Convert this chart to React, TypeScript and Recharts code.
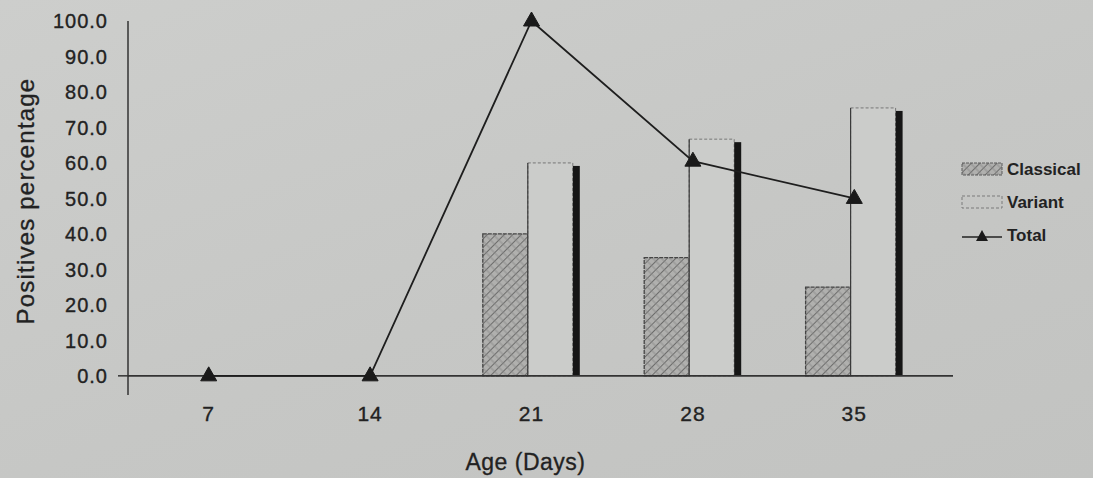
import React from 'react';
import { ComposedChart, Bar, Line, XAxis, YAxis, Legend, ReferenceLine } from 'recharts';

const ages = ['7', '14', '21', '28', '35'];
const classical = [0, 0, 40, 33.3, 25];
const variant = [0, 0, 60, 66.7, 75.5];
const total = [0, 0, 100, 60.5, 50];
const yTicks = [0, 10, 20, 30, 40, 50, 60, 70, 80, 90, 100];

const data = ages.map((a, i) => ({ age: a, classical: classical[i], variant: variant[i], shadow: variant[i], total: total[i] }));

const FONT = '"Liberation Sans", Arial, sans-serif';
const INK = '#222';

const YTick = (props: any) => {
  const { x, y, payload } = props;
  return (
    <g>
      {payload.value === 0 && <line x1={x + 10} x2={x + 21} y1={y} y2={y} stroke="#333" strokeWidth={1.5} />}
      <text x={x} y={y} dy="0.36em" textAnchor="end" fontFamily={FONT} fontSize={20} letterSpacing={1} fill={INK} stroke={INK} strokeWidth={0.35}>
        {Number(payload.value).toFixed(1)}
      </text>
    </g>
  );
};

const XTick = (props: any) => {
  const { x, y, payload } = props;
  return (
    <text x={x} y={y} dy="0.72em" textAnchor="middle" fontFamily={FONT} fontSize={21} letterSpacing={1} fill={INK} stroke={INK} strokeWidth={0.35}>
      {payload.value}
    </text>
  );
};

const ClassicalShape = (props: any) => {
  const { x, y, width, height } = props;
  if (!height || height <= 0) return null;
  return <rect x={x} y={y} width={width} height={height} fill="url(#hatch)" stroke="#444" strokeWidth={1.3} strokeDasharray="4 1" />;
};

const VariantShape = (props: any) => {
  const { x, y, width, height } = props;
  if (!height || height <= 0) return null;
  return (
    <g>
      <rect x={x} y={y} width={width} height={height} fill="#cbccca" stroke="#777" strokeWidth={1} strokeDasharray="3 2" />
      <line x1={x} x2={x} y1={y} y2={y + height} stroke="#3a3a3a" strokeWidth={1.2} />
    </g>
  );
};

const ShadowShape = (props: any) => {
  const { x, y, width, height } = props;
  if (!height || height <= 4) return null;
  return <rect x={x} y={y + 3} width={width} height={height - 3} fill="#161616" />;
};

const TriangleDot = (props: any) => {
  const { cx, cy, index } = props;
  if (cx == null || cy == null) return null;
  return <path key={`t${index}`} d={`M${cx},${cy - 9} L${cx + 8},${cy + 5} L${cx - 8},${cy + 5} Z`} fill="#1a1a1a" stroke="#1a1a1a" strokeWidth={1} />;
};

const LegendContent = () => {
  const rowH = 33;
  const txt = { fontFamily: FONT, fontSize: 17, fontWeight: 'bold' as const, fill: INK };
  return (
    <svg width={133} height={100} style={{ display: 'block' }}>
      <defs>
        <pattern id="hatch2" width="6" height="6" patternUnits="userSpaceOnUse" patternTransform="rotate(45)">
          <rect width="6" height="6" fill="#b0b0ae" />
          <line x1="0" y1="0" x2="0" y2="6" stroke="#5a5a5a" strokeWidth="1.6" />
          <line x1="0" y1="3" x2="6" y2="3" stroke="#868686" strokeWidth="0.8" />
        </pattern>
      </defs>
      <rect x={2} y={6} width={40} height={12} fill="url(#hatch2)" stroke="#5a5a5a" strokeWidth={1} strokeDasharray="3 1" />
      <text x={47} y={12} dy="0.36em" {...txt}>Classical</text>
      <rect x={2} y={6 + rowH} width={40} height={12} fill="none" stroke="#7a7a7a" strokeWidth={1} strokeDasharray="3 2" />
      <text x={47} y={12 + rowH} dy="0.36em" {...txt}>Variant</text>
      <line x1={2} x2={42} y1={14 + 2 * rowH} y2={14 + 2 * rowH} stroke="#222" strokeWidth={1.5} />
      <path d={`M22,${14 + 2 * rowH - 7} L28,${14 + 2 * rowH + 4} L16,${14 + 2 * rowH + 4} Z`} fill="#1a1a1a" />
      <text x={47} y={12 + 2 * rowH} dy="0.36em" {...txt}>Total</text>
    </svg>
  );
};

export default function App() {
  return (
    <div style={{ position: 'absolute', left: 0, top: 0, width: 1093, height: 478, background: 'linear-gradient(160deg, #cdcecc 0%, #c6c7c5 55%, #c2c3c1 100%)' }}>
      <ComposedChart width={1093} height={478} data={data} margin={{ top: 21, right: 140, bottom: 0, left: 0 }} barGap={0} barCategoryGap={0}>
        <defs>
          <pattern id="hatch" width="6" height="6" patternUnits="userSpaceOnUse" patternTransform="rotate(45)">
            <rect width="6" height="6" fill="#b0b0ae" />
            <line x1="0" y1="0" x2="0" y2="6" stroke="#5a5a5a" strokeWidth="1.6" />
            <line x1="0" y1="3" x2="6" y2="3" stroke="#868686" strokeWidth="0.8" />
          </pattern>
        </defs>
        <XAxis
          dataKey="age"
          axisLine={false}
          tickLine={false}
          tickSize={0}
          tickMargin={11}
          height={83}
          padding={{ left: 0, right: 18 }}
          tick={<XTick />}
          interval={0}
          label={{
            content: (p: any) => {
              const vb = p.viewBox;
              return (
                <text x={vb.x + (vb.width - 18) / 2 - 6} y={vb.y + 75} textAnchor="middle" fontFamily={FONT} fontSize={23} letterSpacing={0.5} fill={INK} stroke={INK} strokeWidth={0.3}>
                  Age (Days)
                </text>
              );
            },
          }}
        />
        <YAxis
          type="number"
          domain={[-5.4, 100]}
          ticks={yTicks}
          interval={0}
          width={128}
          tickSize={10}
          tickMargin={10}
          tickLine={false}
          axisLine={{ stroke: '#333', strokeWidth: 1.5 }}
          tick={<YTick />}
          label={{
            content: (p: any) => {
              const vb = p.viewBox;
              const cx = 25;
              const cy = vb.y + vb.height / 2 - 7;
              return (
                <text x={cx} y={cy} transform={`rotate(-90 ${cx} ${cy})`} textAnchor="middle" dy="0.36em" fontFamily={FONT} fontSize={24} letterSpacing={1.2} fill={INK} stroke={INK} strokeWidth={0.3}>
                  Positives percentage
                </text>
              );
            },
          }}
        />
        <ReferenceLine y={0} stroke="#333" strokeWidth={1.6} />
        <Bar dataKey="classical" name="Classical" barSize={45} shape={<ClassicalShape />} isAnimationActive={false} />
        <Bar dataKey="variant" name="Variant" barSize={45} shape={<VariantShape />} isAnimationActive={false} />
        <Bar dataKey="shadow" name="shadow" legendType="none" barSize={7} shape={<ShadowShape />} isAnimationActive={false} />
        <Line dataKey="total" name="Total" type="linear" stroke="#1e1e1e" strokeWidth={1.8} dot={<TriangleDot />} activeDot={false} isAnimationActive={false} />
        <Legend layout="vertical" align="center" verticalAlign="middle" content={<LegendContent />} wrapperStyle={{ left: 960, top: 157, width: 133 }} />
      </ComposedChart>
    </div>
  );
}
